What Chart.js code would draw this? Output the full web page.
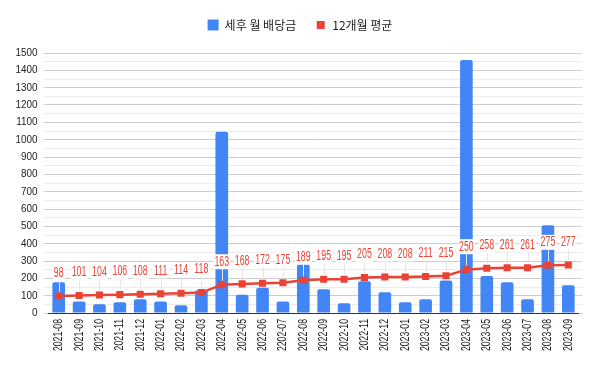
<!DOCTYPE html>
<html>
<head>
<meta charset="utf-8">
<script src="https://cdn.jsdelivr.net/npm/chart.js@4/dist/chart.umd.min.js"></script>
<style>
  html, body { margin: 0; padding: 0; background: #fff; }
</style>
</head>
<body>
<canvas id="c" width="600" height="371"></canvas>
<script>
// months (the sheet has a typo "2202-07", kept as is)
const months = ['2021-08','2021-09','2021-10','2021-11','2021-12','2022-01','2022-02','2022-03','2022-04','2022-05','2022-06','2202-07','2022-08','2022-09','2022-10','2022-11','2022-12','2023-01','2023-02','2023-03','2023-04','2023-05','2023-06','2023-07','2023-08','2023-09'];
// after-tax monthly dividend
const dividend = [177,67,50,62,79,67,44,131,1046,106,146,67,281,137,56,183,119,62,79,188,1460,213,177,79,506,160];
// 12-month average (labels on the line)
const avg12 = [98,101,104,106,108,111,114,118,163,168,172,175,189,195,195,205,208,208,211,215,250,258,261,261,275,277];

const sansFont = '"Liberation Sans", Arial, sans-serif';

// squeezed text, like the narrow font of the original
function squeezed(ctx, txt, x, y, size, sx, align, rot) {
  ctx.save();
  ctx.translate(x, y);
  if (rot) ctx.rotate(rot);
  ctx.scale(sx, 1);
  ctx.font = size + 'px ' + sansFont;
  ctx.textAlign = align;
  ctx.textBaseline = 'middle';
  ctx.fillText(txt, 0, 0);
  ctx.restore();
}

// more room under the legend
const legendGap = {
  id: 'legendGap',
  beforeLayout(chart) {
    const lg = chart.legend;
    if (!lg || lg._gapDone) return;
    const fit = lg.fit;
    lg.fit = function () {
      fit.call(this);
      this.height += 12;
    };
    lg._gapDone = true;
  }
};

const tickText = {
  id: 'tickText',
  afterDraw(chart) {
    const ctx = chart.ctx;
    const xs = chart.scales.x, ys = chart.scales.y;
    ctx.fillStyle = '#222';
    ys.ticks.forEach((t, i) => {
      if (t.value % 100 !== 0) return;
      squeezed(ctx, String(t.value), xs.left - 11, ys.getPixelForTick(i), 11, 0.9, 'right');
    });
    xs.ticks.forEach((t, i) => {
      squeezed(ctx, months[i], xs.getPixelForTick(i), ys.bottom + 6, 12.5, 0.7, 'right', -Math.PI / 2);
    });
  }
};

// red labels above the average line, white box and faint leader line
const lineLabels = {
  id: 'lineLabels',
  afterDatasetsDraw(chart) {
    const meta = chart.getDatasetMeta(1);
    const ctx = chart.ctx;
    ctx.save();
    meta.data.forEach((pt, i) => {
      const txt = String(avg12[i]);
      ctx.font = '14px ' + sansFont;
      const w = ctx.measureText(txt).width * 0.63 + 2;
      const cy = pt.y - 23;
      ctx.strokeStyle = '#e6e6e6';
      ctx.lineWidth = 1;
      ctx.beginPath();
      ctx.moveTo(Math.round(pt.x) + 0.5, cy + 7);
      ctx.lineTo(Math.round(pt.x) + 0.5, pt.y - 4);
      ctx.stroke();
      ctx.fillStyle = '#fff';
      ctx.fillRect(pt.x - w / 2, cy - 7.5, w, 15);
      ctx.fillStyle = '#ea4335';
      squeezed(ctx, txt, pt.x, cy, 14, 0.63, 'center');
    });
    ctx.restore();
  }
};

const gridColor = c => (c.tick.value % 100 === 0 ? '#cccccc' : '#ebebeb');

new Chart(document.getElementById('c').getContext('2d'), {
  type: 'bar',
  data: {
    labels: months,
    datasets: [{
      type: 'bar',
      label: '세후 월 배당금',
      data: dividend,
      backgroundColor: '#4285f4',
      borderRadius: { topLeft: 2, topRight: 2 },
      borderSkipped: 'bottom',
      categoryPercentage: 1,
      barPercentage: 0.62,
      order: 2
    }, {
      type: 'line',
      label: '12개월 평균',
      data: avg12,
      borderColor: '#ea4335',
      backgroundColor: '#ea4335',
      borderWidth: 2.5,
      pointStyle: 'rect',
      pointRadius: 5,
      pointBorderWidth: 0,
      tension: 0,
      order: 1
    }]
  },
  options: {
    responsive: false,
    animation: false,
    layout: { padding: 0 },
    plugins: {
      tooltip: { enabled: false },
      legend: {
        position: 'top',
        labels: {
          boxWidth: 11,
          boxHeight: 11,
          padding: 19,
          color: '#222',
          font: { family: '"Noto Sans CJK KR", sans-serif', size: 12 },
          sort: (a, b) => a.datasetIndex - b.datasetIndex,
          generateLabels: chart => Chart.defaults.plugins.legend.labels.generateLabels(chart).map(l => (
            l.datasetIndex === 1
              ? Object.assign(l, { fillStyle: '#ea4335', strokeStyle: '#fff', lineWidth: 3 })
              : Object.assign(l, { lineWidth: 0 })
          ))
        }
      }
    },
    scales: {
      x: {
        grid: { display: false },
        border: { color: '#333', width: 1 },
        ticks: { display: false },
        afterFit: s => { s.height = 58; }
      },
      y: {
        min: 0,
        max: 1500,
        border: { display: false },
        grid: { color: gridColor, tickLength: 4.5, tickColor: gridColor },
        ticks: { display: false, stepSize: 50, autoSkip: false },
        afterFit: s => { s.width = 48.5; }
      },
      y2: {
        position: 'right',
        min: 0,
        max: 1500,
        border: { display: false },
        grid: { drawOnChartArea: false, tickLength: 3.5, color: gridColor, tickColor: gridColor },
        ticks: { display: false, stepSize: 50, autoSkip: false },
        afterFit: s => { s.width = 21.5; }
      }
    }
  },
  plugins: [legendGap, lineLabels, tickText]
});
</script>
</body>
</html>
